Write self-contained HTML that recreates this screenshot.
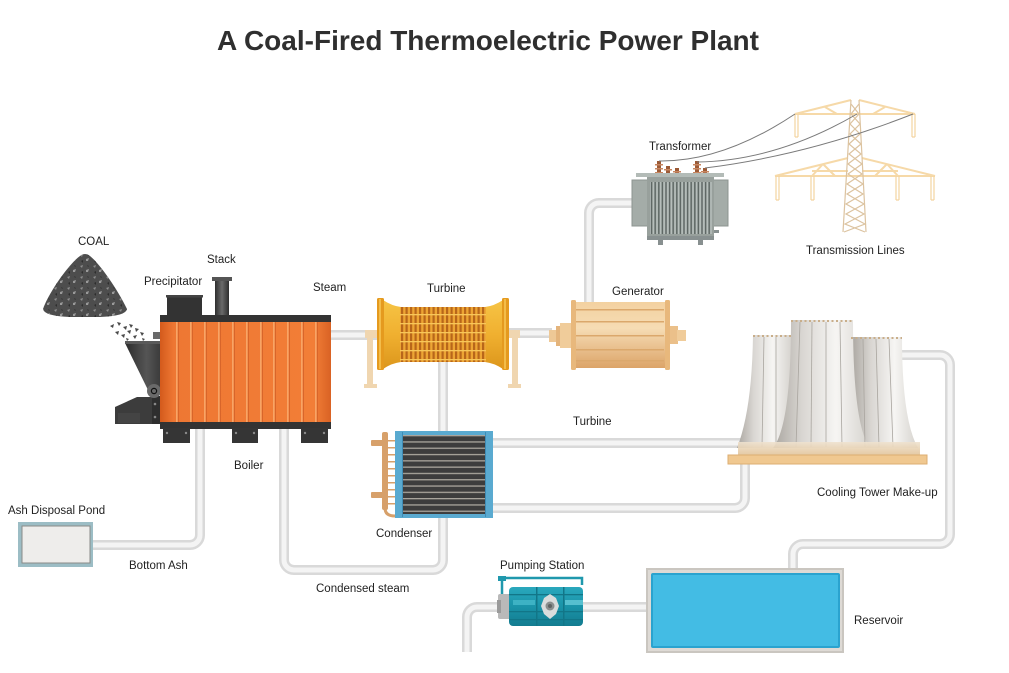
<!DOCTYPE html>
<html><head><meta charset="utf-8">
<style>
html,body{margin:0;padding:0;background:#fff;}
svg{display:block;}
text{font-family:"Liberation Sans",Arial,sans-serif;fill:#222;font-size:11.5px;}
</style></head><body>
<svg width="1009" height="673" viewBox="0 0 1009 673" xmlns="http://www.w3.org/2000/svg">
<defs>
 <linearGradient id="boil" x1="0" x2="1" y1="0" y2="0">
  <stop offset="0" stop-color="#d35a1c"/><stop offset="0.08" stop-color="#ee7733"/>
  <stop offset="0.9" stop-color="#f27e37"/><stop offset="1" stop-color="#d96224"/>
 </linearGradient>
 <linearGradient id="stack" x1="0" x2="1">
  <stop offset="0" stop-color="#2e2e2e"/><stop offset="0.5" stop-color="#6a6a6a"/><stop offset="1" stop-color="#2e2e2e"/>
 </linearGradient>
 <linearGradient id="hop" x1="0" x2="1">
  <stop offset="0" stop-color="#2c2c2c"/><stop offset="0.6" stop-color="#555"/><stop offset="1" stop-color="#3a3a3a"/>
 </linearGradient>
 <linearGradient id="turb" x1="0" x2="0" y1="0" y2="1">
  <stop offset="0" stop-color="#f6c445"/><stop offset="0.5" stop-color="#f0b030"/><stop offset="1" stop-color="#dc961c"/>
 </linearGradient>
 <linearGradient id="gen" x1="0" x2="0" y1="0" y2="1">
  <stop offset="0" stop-color="#f3d1a0"/><stop offset="0.4" stop-color="#f6dcb4"/><stop offset="1" stop-color="#dca468"/>
 </linearGradient>
 <linearGradient id="tw" x1="0" x2="1">
  <stop offset="0" stop-color="#a9a59f"/><stop offset="0.3" stop-color="#d9d6d2"/>
  <stop offset="0.65" stop-color="#f6f5f3"/><stop offset="1" stop-color="#d5d2cd"/>
 </linearGradient>
 <linearGradient id="twb" x1="0" x2="0" y1="0" y2="1">
  <stop offset="0" stop-color="#efe2cf"/><stop offset="1" stop-color="#e2c49a"/>
 </linearGradient>
 <linearGradient id="pump" x1="0" x2="0" y1="0" y2="1">
  <stop offset="0" stop-color="#2aa8bd"/><stop offset="0.5" stop-color="#1a93a8"/><stop offset="1" stop-color="#137c90"/>
 </linearGradient>
 <pattern id="tgrid" patternUnits="userSpaceOnUse" x="400" y="307" width="4.5" height="9">
  <rect width="4.5" height="9" fill="#eda534"/>
  <rect x="1" width="2.2" height="9" fill="#b8661a"/>
  <rect y="7" width="4.5" height="1.3" fill="#f7c65a"/>
 </pattern>
 <pattern id="cond" patternUnits="userSpaceOnUse" x="403" y="435" width="90" height="6.3">
  <rect width="90" height="6.3" fill="#3d3d3d"/>
  <rect y="0" width="90" height="1.3" fill="#a9a59c"/>
 </pattern>
 <pattern id="fins" patternUnits="userSpaceOnUse" x="650" y="182" width="3.6" height="10">
  <rect width="3.6" height="10" fill="#b6bebb"/>
  <rect x="0.8" width="1.6" height="10" fill="#5f6865"/>
 </pattern>
 <pattern id="coalp" patternUnits="userSpaceOnUse" width="13" height="11">
  <polygon points="2,2 5,1 4,4" fill="#8c8c8c"/>
  <polygon points="8,6 11,5 10,8 8,8" fill="#9a9a9a"/>
  <polygon points="3,8 5,7 5,10" fill="#2e2e2e"/>
  <polygon points="9,1 11,2 10,3" fill="#333"/>
 </pattern>
 <path id="pA" d="M328,335 H380"/>
 <path id="pB" d="M506,333 H552"/>
 <path id="pC" d="M589,302 V213 A10,10 0 0 1 599,203 H634"/>
 <path id="pD" d="M443,360 V434"/>
 <path id="pE" d="M443,515 V560 A10,10 0 0 1 433,570 H294 A10,10 0 0 1 284,560 V428"/>
 <path id="pF" d="M200,428 V535 A10,10 0 0 1 190,545 H92"/>
 <path id="pG" d="M492,443 H742"/>
 <path id="pH" d="M492,508 H735 A10,10 0 0 0 745,498 V460"/>
 <path id="pI" d="M900,355 H940 A10,10 0 0 1 950,365 V534 A10,10 0 0 1 940,544 H803 A10,10 0 0 0 793,554 V570"/>
 <path id="pJ" d="M467,652 V617 A10,10 0 0 1 477,607 H500"/>
 <path id="pK" d="M582,607 H648"/>
</defs>

<!-- Title -->
<text x="488" y="50" text-anchor="middle" style="font-size:28px;font-weight:bold;fill:#2f2f2f">A Coal-Fired Thermoelectric Power Plant</text>

<!-- Pipes -->
<g fill="none" stroke="#d9d9d9" stroke-width="10">
 <use href="#pA"/><use href="#pB"/><use href="#pC"/><use href="#pD"/><use href="#pE"/><use href="#pF"/>
 <use href="#pG"/><use href="#pH"/><use href="#pI"/><use href="#pJ"/><use href="#pK"/>
</g>
<g fill="none" stroke="#f4f4f4" stroke-width="5">
 <use href="#pA"/><use href="#pB"/><use href="#pC"/><use href="#pD"/><use href="#pE"/><use href="#pF"/>
 <use href="#pG"/><use href="#pH"/><use href="#pI"/><use href="#pJ"/><use href="#pK"/>
</g>

<!-- Coal pile -->
<path d="M43,309 C50,290 70,263 80,256 Q85,252 90,256 C100,264 118,290 127,309 Q126,316 100,317 L70,317 Q44,316 43,309 Z" fill="#4d4d4d"/>
<path d="M43,309 C50,290 70,263 80,256 Q85,252 90,256 C100,264 118,290 127,309 Q126,316 100,317 L70,317 Q44,316 43,309 Z" fill="url(#coalp)"/>
<g fill="#4a4a4a">
 <polygon points="110,326 114,324 113,328"/><polygon points="117,322 121,323 119,326"/>
 <polygon points="123,327 127,326 126,330"/><polygon points="129,324 133,325 131,328"/>
 <polygon points="135,328 139,329 136,332"/><polygon points="140,332 144,333 142,336"/>
 <polygon points="115,332 119,331 118,335"/><polygon points="121,335 125,334 124,338"/>
 <polygon points="127,331 131,330 130,334"/><polygon points="133,336 137,335 135,339"/>
 <polygon points="142,338 145,339 143,341"/><polygon points="126,338 129,339 127,341"/>
</g>

<!-- Hopper & feeder -->
<rect x="153" y="332" width="7" height="7" fill="#6a6a6a"/>
<path d="M125,343 H161 V390 H148 Z" fill="url(#hop)"/>
<rect x="125" y="341" width="36" height="3" fill="#5a5a5a"/>
<path d="M115,407 L137,397 H161 V424 H115 Z" fill="#3c3c3c"/>
<rect x="118" y="413" width="22" height="10" fill="#444"/>
<rect x="152" y="396" width="9" height="28" fill="#2e2e2e"/>
<circle cx="155" cy="404" r="1.3" fill="#888"/><circle cx="155" cy="417" r="1.3" fill="#888"/>
<circle cx="154" cy="391" r="7" fill="#6a6a6a"/>
<circle cx="154" cy="391" r="2.6" fill="none" stroke="#111" stroke-width="1.2"/>

<!-- Precipitator & stack -->
<rect x="167" y="297" width="35" height="20" fill="#333"/>
<rect x="166" y="295" width="37" height="2.5" fill="#444"/>
<rect x="215" y="280" width="14" height="37" fill="url(#stack)"/>
<rect x="212" y="277" width="20" height="4" fill="#555"/>

<!-- Boiler -->
<rect x="160" y="321" width="171" height="102" fill="url(#boil)"/>
<g fill="#f7a466">
 <rect x="176" y="321" width="1.6" height="102"/><rect x="190" y="321" width="1.6" height="102"/>
 <rect x="204" y="321" width="1.6" height="102"/><rect x="218" y="321" width="1.6" height="102"/>
 <rect x="232" y="321" width="1.6" height="102"/><rect x="246" y="321" width="1.6" height="102"/>
 <rect x="260" y="321" width="1.6" height="102"/><rect x="273" y="321" width="1.6" height="102"/>
 <rect x="287" y="321" width="1.6" height="102"/><rect x="301" y="321" width="1.6" height="102"/>
 <rect x="315" y="321" width="1.6" height="102"/>
</g>
<g fill="#d8652a">
 <rect x="178" y="321" width="1" height="102"/><rect x="192" y="321" width="1" height="102"/>
 <rect x="206" y="321" width="1" height="102"/><rect x="220" y="321" width="1" height="102"/>
 <rect x="234" y="321" width="1" height="102"/><rect x="248" y="321" width="1" height="102"/>
 <rect x="262" y="321" width="1" height="102"/><rect x="275" y="321" width="1" height="102"/>
 <rect x="289" y="321" width="1" height="102"/><rect x="303" y="321" width="1" height="102"/>
 <rect x="317" y="321" width="1" height="102"/>
</g>
<rect x="160" y="315" width="171" height="7" fill="#333"/>
<rect x="160" y="422" width="171" height="7" fill="#333"/>
<g fill="#353535">
 <rect x="163" y="428" width="27" height="15"/><rect x="232" y="428" width="26" height="15"/><rect x="301" y="428" width="27" height="15"/>
</g>
<g fill="#8a8a8a">
 <circle cx="167" cy="433" r="1.2"/><circle cx="186" cy="433" r="1.2"/>
 <circle cx="236" cy="433" r="1.2"/><circle cx="254" cy="433" r="1.2"/>
 <circle cx="305" cy="433" r="1.2"/><circle cx="324" cy="433" r="1.2"/>
</g>

<!-- Turbine supports -->
<g fill="#f0d6b0">
 <rect x="365" y="330" width="13" height="8"/><rect x="367" y="330" width="6" height="57"/><rect x="364" y="384" width="13" height="4"/>
 <rect x="507" y="330" width="13" height="8"/><rect x="512" y="330" width="6" height="57"/><rect x="508" y="384" width="13" height="4"/>
</g>
<!-- Turbine -->
<path d="M383,300 Q392,306 401,307 H485 Q494,306 503,300 V369 Q494,363 485,362 H401 Q392,363 383,369 Z" fill="url(#turb)"/>
<rect x="400" y="307" width="86" height="55" fill="url(#tgrid)"/>
<rect x="377" y="298" width="7" height="72" rx="1.5" fill="#e59a1e"/>
<rect x="502" y="298" width="7" height="72" rx="1.5" fill="#e59a1e"/>
<rect x="379" y="299" width="2" height="70" fill="#f3bd4a"/>
<rect x="504" y="299" width="2" height="70" fill="#f3bd4a"/>

<!-- Generator -->
<rect x="549" y="330" width="8" height="12" fill="#eec896"/>
<rect x="556" y="326" width="5" height="20" fill="#e4b47c"/>
<rect x="560" y="323" width="13" height="25" fill="#f0cc9a"/>
<rect x="668" y="326" width="10" height="18" fill="#ebc08a"/>
<rect x="677" y="330" width="9" height="11" fill="#f0cc9a"/>
<rect x="572" y="302" width="96" height="66" fill="url(#gen)"/>
<g fill="#dba86c">
 <rect x="576" y="309" width="88" height="1.5"/><rect x="576" y="321" width="88" height="1.5"/>
 <rect x="576" y="335" width="88" height="1.5"/><rect x="576" y="349" width="88" height="1.5"/>
 <rect x="576" y="360" width="88" height="1.5"/>
</g>
<rect x="571" y="300" width="5" height="70" rx="1.5" fill="#e8b87c"/>
<rect x="665" y="300" width="5" height="70" rx="1.5" fill="#e8b87c"/>

<!-- Transformer -->
<g>
 <rect x="657" y="161" width="4" height="15" fill="#9c5a36"/>
 <rect x="666" y="166" width="4" height="10" fill="#9c5a36"/>
 <rect x="675" y="168" width="4" height="8" fill="#9c5a36"/>
 <rect x="695" y="161" width="4" height="15" fill="#9c5a36"/>
 <rect x="703" y="168" width="4" height="8" fill="#9c5a36"/>
 <g fill="#c78660">
  <rect x="655" y="164" width="8" height="1.5"/><rect x="655" y="168" width="8" height="1.5"/><rect x="655" y="172" width="8" height="1.5"/>
  <rect x="693" y="164" width="8" height="1.5"/><rect x="693" y="168" width="8" height="1.5"/><rect x="693" y="172" width="8" height="1.5"/>
  <rect x="664" y="169" width="8" height="1.5"/><rect x="673" y="171" width="8" height="1.5"/><rect x="701" y="171" width="8" height="1.5"/>
 </g>
 <rect x="632" y="180" width="16" height="46" fill="#a4aca8" stroke="#8d9591" stroke-width="1"/>
 <rect x="713" y="180" width="15" height="46" fill="#a4aca8" stroke="#8d9591" stroke-width="1"/>
 <rect x="647" y="176" width="67" height="64" fill="#98a09c"/>
 <rect x="650" y="182" width="62" height="52" fill="url(#fins)"/>
 <rect x="636" y="173" width="88" height="4" fill="#b3bbb7"/>
 <rect x="647" y="236" width="67" height="4" fill="#889090"/>
 <rect x="658" y="240" width="5" height="5" fill="#889090"/>
 <rect x="698" y="240" width="5" height="5" fill="#889090"/>
 <rect x="714" y="230" width="5" height="3" fill="#889090"/>
</g>

<!-- Transmission tower -->
<g stroke="#f6d9a8" stroke-width="2" fill="none">
 <line x1="795" y1="114" x2="915" y2="114"/>
 <line x1="851" y1="100" x2="795" y2="114"/>
 <line x1="859" y1="100" x2="915" y2="114"/>
 <line x1="825" y1="107" x2="837" y2="114"/><line x1="885" y1="107" x2="873" y2="114"/>
 <line x1="775" y1="176" x2="935" y2="176"/>
 <line x1="848" y1="158" x2="775" y2="176"/>
 <line x1="862" y1="158" x2="935" y2="176"/>
 <line x1="823" y1="164" x2="812" y2="176"/><line x1="823" y1="164" x2="835" y2="176"/>
 <line x1="887" y1="164" x2="898" y2="176"/><line x1="887" y1="164" x2="875" y2="176"/>
 <line x1="812" y1="171" x2="848" y2="171"/><line x1="862" y1="171" x2="898" y2="171"/>
</g>
<g stroke="#f3d4a0" stroke-width="1.2" fill="none">
 <path d="M795,114 V137 M798,114 V137 M795,137 H798"/>
 <path d="M912,114 V137 M915,114 V137 M912,137 H915"/>
 <path d="M776,176 V200 M779,176 V200 M776,200 H779"/>
 <path d="M811,176 V200 M814,176 V200 M811,200 H814"/>
 <path d="M896,176 V200 M899,176 V200 M896,200 H899"/>
 <path d="M931,176 V200 M934,176 V200 M931,200 H934"/>
</g>
<g stroke="#dcc3a0" stroke-width="1.2" fill="none">
 <line x1="851" y1="100" x2="843" y2="232"/>
 <line x1="859" y1="100" x2="866" y2="232"/>
 <path d="M851,104 L859,114 L850,124 L860,134 L849,144 L861,154 L848,164 L862,174 L847,184 L863,194 L846,204 L864,214 L845,224 L865,232"/>
 <path d="M859,104 L851,114 L860,124 L850,134 L861,144 L849,154 L862,164 L848,174 L863,184 L847,194 L864,204 L846,214 L865,224 L844,232"/>
</g>
<!-- Wires -->
<g stroke="#7a7a7a" stroke-width="1" fill="none">
 <path d="M659,161 Q723,162 795,114"/>
 <path d="M697,162 Q776,161 857,114"/>
 <path d="M705,168 Q809,155 913,114"/>
</g>

<!-- Condenser -->
<g fill="#d7a06a">
 <rect x="371" y="440" width="13" height="6" rx="1"/>
 <rect x="371" y="492" width="13" height="6" rx="1"/>
 <rect x="382" y="432" width="6" height="78" rx="2"/>
</g>
<path d="M385,508 Q385,516 395,516" fill="none" stroke="#d7a06a" stroke-width="3"/>
<g fill="#d7a06a">
 <rect x="387" y="440" width="8" height="1.5"/><rect x="387" y="447" width="8" height="1.5"/>
 <rect x="387" y="454" width="8" height="1.5"/><rect x="387" y="461" width="8" height="1.5"/>
 <rect x="387" y="468" width="8" height="1.5"/><rect x="387" y="475" width="8" height="1.5"/>
 <rect x="387" y="482" width="8" height="1.5"/><rect x="387" y="489" width="8" height="1.5"/>
 <rect x="387" y="496" width="8" height="1.5"/><rect x="387" y="503" width="8" height="1.5"/>
</g>
<rect x="395" y="431" width="98" height="87" fill="#5aaad0"/>
<rect x="403" y="435" width="82" height="79" fill="url(#cond)"/>
<rect x="402" y="432" width="1" height="85" fill="#3f8cb5"/>
<rect x="485" y="432" width="1" height="85" fill="#3f8cb5"/>

<!-- Cooling towers -->
<path d="M753,335 H792 V448 H737 Q752,410 753,335 Z" fill="url(#tw)"/>
<path d="M851,337 H902 Q902,420 918,448 H858 Z" fill="url(#tw)"/>
<path d="M791,320 H853 Q853,425 870,448 H773 Q791,425 791,320 Z" fill="url(#tw)"/>
<g stroke="#a9a59f" stroke-width="0.8">
 <line x1="764" y1="337" x2="762" y2="447"/><line x1="776" y1="337" x2="776" y2="447"/>
 <line x1="863" y1="339" x2="865" y2="447"/><line x1="876" y1="339" x2="879" y2="447"/><line x1="889" y1="339" x2="893" y2="447"/>
 <line x1="800" y1="322" x2="796" y2="447"/><line x1="812" y1="322" x2="811" y2="447"/>
 <line x1="826" y1="322" x2="826" y2="447"/><line x1="840" y1="322" x2="842" y2="447"/>
</g>
<g fill="none" stroke="#c9ae8a" stroke-width="2" stroke-dasharray="2 2.5">
 <line x1="753" y1="336" x2="791" y2="336"/>
 <line x1="851" y1="338" x2="902" y2="338"/>
 <line x1="791" y1="321" x2="853" y2="321"/>
</g>
<rect x="738" y="442" width="182" height="13" fill="url(#twb)" opacity="0.9"/>
<rect x="728" y="455" width="199" height="9" fill="#f0c890" stroke="#dcae72" stroke-width="1"/>

<!-- Ash disposal pond -->
<rect x="18" y="522" width="75" height="45" fill="#9cbdc5"/>
<rect x="22" y="526" width="68" height="37" fill="#eeedeb" stroke="#8a8a88" stroke-width="1"/>

<!-- Pump -->
<path d="M502,596 V578 H582 V585" fill="none" stroke="#1f98ad" stroke-width="2.5"/>
<rect x="498" y="576" width="8" height="5" fill="#1f98ad"/>
<rect x="498" y="594" width="13" height="25" rx="2" fill="#b9b9b9"/>
<rect x="497" y="600" width="4" height="13" fill="#9a9a9a"/>
<rect x="509" y="587" width="74" height="39" rx="4" fill="url(#pump)"/>
<g fill="#127688">
 <rect x="509" y="594" width="74" height="1.3"/><rect x="509" y="611" width="74" height="1.3"/><rect x="509" y="619" width="74" height="1.3"/>
 <rect x="536" y="587" width="1.5" height="39"/><rect x="563" y="587" width="1.5" height="39"/>
</g>
<rect x="565" y="600" width="18" height="5" fill="#56bfcf"/>
<rect x="513" y="600" width="22" height="5" fill="#3db2c4"/>
<path d="M550,594 L556,598 L559,606 L556,614 L550,619 L544,614 L541,606 L544,598 Z" fill="#d9dcdc"/>
<circle cx="550" cy="606" r="4.5" fill="#8a8e8e"/>
<circle cx="550" cy="606" r="2" fill="#5e6262"/>

<!-- Reservoir -->
<rect x="646" y="568" width="198" height="85" fill="#cac6c0"/>
<rect x="648" y="570" width="194" height="81" fill="#dedad5"/>
<rect x="651" y="573" width="189" height="75" rx="2" fill="#2aa3cf"/>
<rect x="653" y="575" width="185" height="71" fill="#43bce4"/>

<!-- Labels -->
<text x="78" y="245">COAL</text>
<text x="207" y="263">Stack</text>
<text x="144" y="285">Precipitator</text>
<text x="313" y="291">Steam</text>
<text x="427" y="292">Turbine</text>
<text x="612" y="295">Generator</text>
<text x="649" y="150">Transformer</text>
<text x="806" y="254">Transmission Lines</text>
<text x="573" y="425">Turbine</text>
<text x="817" y="496">Cooling Tower Make-up</text>
<text x="234" y="469">Boiler</text>
<text x="8" y="514">Ash Disposal Pond</text>
<text x="376" y="537">Condenser</text>
<text x="129" y="569">Bottom Ash</text>
<text x="316" y="592">Condensed steam</text>
<text x="500" y="569">Pumping Station</text>
<text x="854" y="624">Reservoir</text>
</svg>
</body></html>
